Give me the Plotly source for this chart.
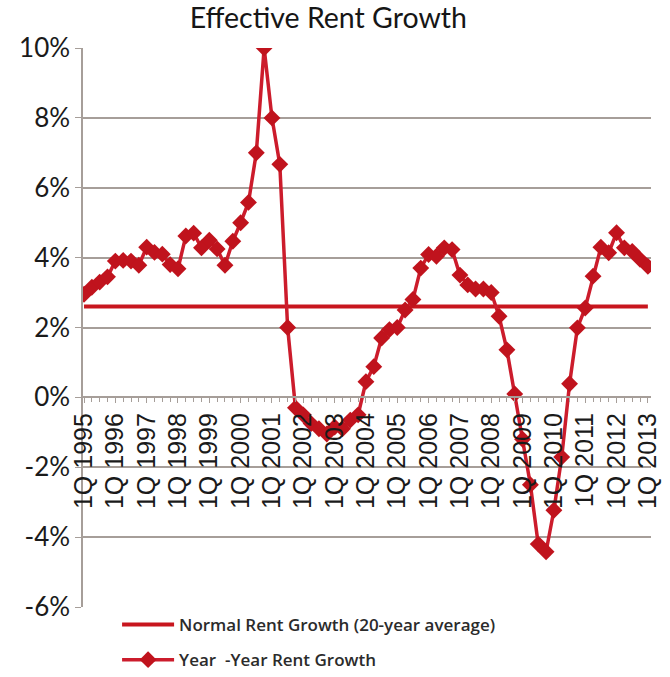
import plotly.graph_objects as go

# Quarterly year-over-year effective rent growth, 1Q 1995 - 1Q 2013 (%)
years = list(range(1995, 2014))
quarters = [f"{q}Q {y}" for y in years for q in range(1, 5)][:73]

rent_growth = [
    2.95, 3.15, 3.30, 3.45,          # 1995
    3.90, 3.92, 3.90, 3.78,          # 1996
    4.30, 4.15, 4.10, 3.80,          # 1997
    3.68, 4.62, 4.70, 4.28,          # 1998
    4.50, 4.25, 3.78, 4.47,          # 1999
    5.00, 5.58, 7.00, 10.00,         # 2000
    8.00, 6.67, 2.00, -0.30,         # 2001
    -0.50, -0.75, -0.90, -1.05,      # 2002
    -0.85, -0.90, -0.65, -0.50,      # 2003
    0.45, 0.88, 1.70, 1.94,          # 2004
    2.00, 2.50, 2.80, 3.70,          # 2005
    4.09, 4.04, 4.28, 4.23,          # 2006
    3.50, 3.22, 3.10, 3.10,          # 2007
    3.00, 2.32, 1.36, 0.10,          # 2008
    -1.20, -2.50, -4.20, -4.42,      # 2009
    -3.23, -1.71, 0.39, 1.99,        # 2010
    2.56, 3.47, 4.30, 4.14,          # 2011
    4.71, 4.28, 4.18, 3.95,          # 2012
    3.75,                            # 2013
]

# 20-year average (normal) rent growth, %
normal_growth = 2.6

y_ticks = [-6, -4, -2, 0, 2, 4, 6, 8, 10]
y_tick_labels = ["-6%", "-4%", "-2%", "0%", "2%", "4%", "6%", "8%", "10%"]

x_idx = list(range(len(quarters)))
label_idx = [i for i, q in enumerate(quarters) if q.startswith("1Q")]
label_text = [quarters[i] for i in label_idx]

GRID = "#a69e99"
RED_LINE = "#cc1c2c"
RED_MARK = "#c0131d"

fig = go.Figure()

fig.add_trace(go.Scatter(
    x=x_idx,
    y=[normal_growth] * len(x_idx),
    mode="lines",
    line=dict(color="#c8161e", width=4),
    name="Normal Rent Growth (20-year average)",
    legend="legend",
    hoverinfo="skip",
))

fig.add_trace(go.Scatter(
    x=x_idx,
    y=rent_growth,
    mode="lines+markers",
    line=dict(color=RED_LINE, width=3.5),
    marker=dict(symbol="diamond", size=13, color=RED_MARK),
    name="Year\u00a0\u00a0-Year Rent Growth",
    legend="legend2",
    customdata=quarters,
    hovertemplate="%{customdata}: %{y:.1f}%<extra></extra>",
))

legend_font = dict(family="Open Sans", size=17, color="#2b2b2b", weight=600)

fig.update_layout(
    width=670,
    height=677,
    margin=dict(l=83, r=19, t=48, b=70, autoexpand=False),
    paper_bgcolor="white",
    plot_bgcolor="white",
    title=dict(
        text="Effective Rent Growth",
        x=0.49, xanchor="center",
        y=0.973, yanchor="middle",
        font=dict(family="Lato", size=28.5, color="#161616"),
    ),
    xaxis=dict(
        range=[-0.13, 72.4],
        anchor="free",
        position=6 / 16,
        tickmode="array",
        tickvals=label_idx,
        ticktext=label_text,
        tickangle=-90,
        ticks="outside",
        ticklen=5,
        tickcolor=GRID,
        tickwidth=1,
        minor=dict(dtick=1, ticks="outside", ticklen=4, tickcolor=GRID),
        showline=True,
        linecolor=GRID,
        linewidth=1.5,
        showgrid=False,
        zeroline=False,
        tickfont=dict(family="Liberation Sans", size=25, color="#1a1a1a"),
    ),
    yaxis=dict(
        range=[-6, 10],
        tickmode="array",
        tickvals=y_ticks,
        ticktext=y_tick_labels,
        ticks="outside",
        ticklen=6,
        tickcolor=GRID,
        showline=True,
        linecolor=GRID,
        linewidth=1.5,
        showgrid=True,
        gridcolor=GRID,
        gridwidth=1.5,
        zeroline=False,
        tickfont=dict(family="Lato", size=26, color="#1a1a1a"),
    ),
    legend=dict(
        x=0.06, xanchor="left",
        y=-0.032, yanchor="middle",
        itemwidth=52,
        font=legend_font,
        bgcolor="rgba(0,0,0,0)",
    ),
    legend2=dict(
        x=0.06, xanchor="left",
        y=-0.095, yanchor="middle",
        itemwidth=52,
        font=legend_font,
        bgcolor="rgba(0,0,0,0)",
    ),
    showlegend=True,
)

fig.write_html("out.html")
